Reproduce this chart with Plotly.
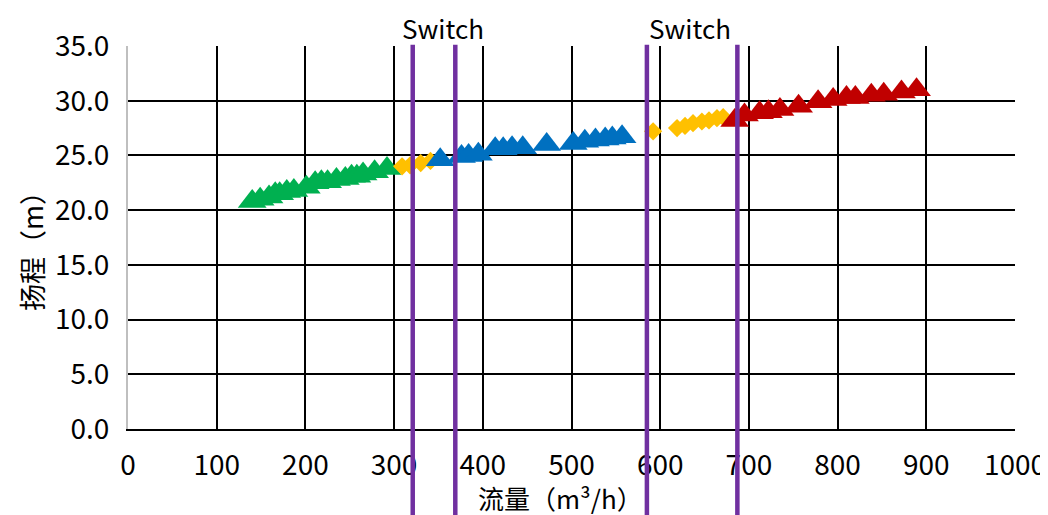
import plotly.graph_objects as go

# Data
green_x = [140, 149, 159, 166, 171, 179, 187, 201, 211, 218, 225, 235, 245, 252, 258, 265, 278, 292]
green_y = [20.8, 21.0, 21.2, 21.5, 21.5, 21.7, 21.8, 22.1, 22.5, 22.6, 22.6, 22.8, 22.9, 23.1, 23.1, 23.3, 23.5, 23.8]

orange1_x = [309, 318, 330, 341]
orange1_y = [24.0, 24.1, 24.3, 24.5]

blue_x = [352, 376, 384, 395, 414, 423, 433, 445, 472, 502, 515, 527, 538, 546, 557]
blue_y = [24.6, 24.9, 25.0, 25.1, 25.6, 25.6, 25.7, 25.7, 26.0, 26.1, 26.3, 26.4, 26.5, 26.6, 26.7]

orange2_x = [592, 619, 628, 637, 647, 655, 664, 671]
orange2_y = [27.2, 27.5, 27.7, 27.95, 28.1, 28.2, 28.4, 28.5]

red_x = [684, 695, 712, 722, 735, 756, 778, 795, 810, 820, 838, 852, 872, 889]
red_y = [28.2, 28.7, 28.9, 29.0, 29.2, 29.5, 29.9, 30.1, 30.3, 30.3, 30.5, 30.6, 30.8, 31.0]

switch_lines = [321, 369, 585, 687]
switch_label_x = [355, 634]
switch_label = "Switch"

x_title = "流量（m³/h）"
y_title = "扬程（m）"

FONT = "Noto Sans CJK SC"
# page body has an 8px default margin, so the figure is sized to fit inside
W, H = 1040, 507
ML, MR, MT, MB = 120, 33, 38, 86
PLOT_H = H - MT - MB

fig = go.Figure()

def add(xs, ys, color, symbol, size):
    fig.add_trace(go.Scatter(
        x=xs, y=ys, mode="markers",
        marker=dict(symbol=symbol, color=color, size=size, line=dict(width=0)),
        showlegend=False, hoverinfo="x+y"))

add(green_x, green_y, "#00B050", "triangle-up", 25)
add(orange1_x, orange1_y, "#FFC000", "diamond", 14)
add(blue_x, blue_y, "#0070C0", "triangle-up", 25)
add(orange2_x, orange2_y, "#FFC000", "diamond", 14)
add(red_x, red_y, "#C00000", "triangle-up", 25)

for xv in switch_lines:
    fig.add_shape(type="line", xref="x", yref="paper", x0=xv, x1=xv,
                  y0=-0.25, y1=1.003, line=dict(color="#7030A0", width=4.5))

for xv in switch_label_x:
    fig.add_annotation(x=xv, xref="x", y=(429 - 28) / PLOT_H, yref="paper",
                       text=switch_label, showarrow=False, yanchor="middle",
                       font=dict(family=FONT, size=26, color="black"))

fig.add_annotation(x=0.488, xref="paper", y=(429 - 497) / PLOT_H, yref="paper",
                   text=x_title, showarrow=False, yanchor="middle",
                   font=dict(family=FONT, size=26, color="black"))

fig.update_layout(
    width=W, height=H,
    margin=dict(l=ML, r=MR, t=MT, b=MB),
    plot_bgcolor="white", paper_bgcolor="white",
    font=dict(family=FONT, size=28, color="black"),
    xaxis=dict(range=[0, 1000], dtick=100, tick0=0, showgrid=True,
               gridcolor="black", gridwidth=2, zeroline=False,
               showline=True, linecolor="black", linewidth=2,
               ticks="", ticklabelstandoff=10, automargin=False,
               tickfont=dict(family=FONT, size=28, color="black")),
    yaxis=dict(range=[0, 35], dtick=5, tick0=0, showgrid=True,
               gridcolor="black", gridwidth=2, zeroline=False,
               showline=True, linecolor="#BFBFBF", linewidth=2,
               tickformat=".1f", ticks="", ticklabelstandoff=11,
               automargin=False,
               tickfont=dict(family=FONT, size=28, color="black")),
)

fig.add_annotation(x=0, xref="paper", y=0, yref="paper", text=y_title,
                   showarrow=False, textangle=-90, xanchor="center", yanchor="middle",
                   font=dict(family=FONT, size=27, color="black"))
# place the y title at its pixel position (page x 31, y 245)
ann = fig.layout.annotations[-1]
ann.x = (31 - 8 - ML) / (W - ML - MR)
ann.y = (429 - 245) / PLOT_H

fig.write_html("out.html")
